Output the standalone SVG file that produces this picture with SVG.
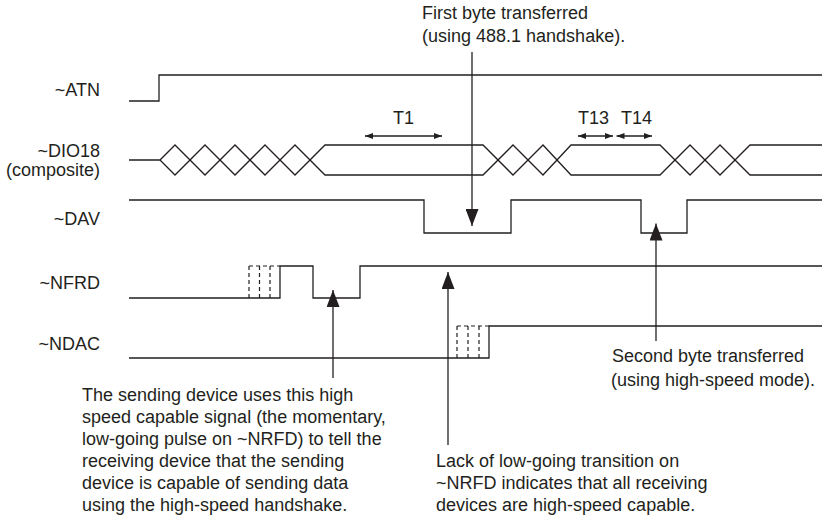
<svg xmlns="http://www.w3.org/2000/svg" width="824" height="519" viewBox="0 0 824 519">
<defs>
<style>
.w{fill:none;stroke:#231f20;stroke-width:1.3;stroke-linejoin:miter}
.d{fill:none;stroke:#231f20;stroke-width:1.2;stroke-dasharray:4 3}
.c{fill:none;stroke:#231f20;stroke-width:1.3}
text{font-family:"Liberation Sans",Arial,Helvetica,sans-serif;font-size:18px;fill:#231f20}
.lbl{text-anchor:end}
</style>
<marker id="big" viewBox="0 0 17 13" markerWidth="17" markerHeight="13" refX="17" refY="6.5" orient="auto" markerUnits="userSpaceOnUse">
<path d="M0,0 L17,6.5 L0,13 Z" fill="#231f20"/>
</marker>
<marker id="sm" viewBox="0 0 8 6" markerWidth="8" markerHeight="6" refX="8" refY="3" orient="auto-start-reverse" markerUnits="userSpaceOnUse">
<path d="M0,0 L8,3 L0,6 Z" fill="#231f20"/>
</marker>
</defs>
<rect width="824" height="519" fill="#ffffff"/>

<g id="atn">
<text class="lbl" x="100" y="96">~ATN</text>
<path class="w" d="M129,101 L159,101 L159,75 L822,75"/>
</g>

<g id="dio18">
<text class="lbl" x="100" y="157">~DIO18</text>
<text class="lbl" x="100" y="176">(composite)</text>
<path class="w" d="M129,160 L160,160 L175,145 L205,175 L235,145 L265,175 L295,145 L325,175 L483,175 L513,145 L543,175 L571,145 L660,145 L690,175 L720,145 L750,175 L822,175"/>
<path class="w" d="M160,160 L175,175 L205,145 L235,175 L265,145 L295,175 L325,145 L483,145 L513,175 L543,145 L571,175 L660,175 L690,145 L720,175 L750,145 L822,145"/>
</g>

<g id="dav">
<text class="lbl" x="100" y="225">~DAV</text>
<path class="w" d="M129,200 L424,200 L424,233 L511,233 L511,200 L641,200 L641,233 L687,233 L687,200 L822,200"/>
</g>

<g id="nfrd">
<text class="lbl" x="100" y="289">~NFRD</text>
<path class="w" d="M129,298 L280,298 L280,266 L313,266 L313,298 L360,298 L360,266 L822,266"/>
<path class="d" d="M249,266 L280,266 M249,266 L249,298 M259.5,266 L259.5,298 M270,266 L270,298"/>
</g>

<g id="ndac">
<text class="lbl" x="100" y="350">~NDAC</text>
<path class="w" d="M129,358 L489,358 L489,326 L822,326"/>
<path class="d" d="M457,326 L489,326 M457,326 L457,358 M468,326 L468,358 M479,326 L479,358"/>
</g>

<g id="timing-labels">
<text x="393" y="124">T1</text>
<text x="578" y="124">T13</text>
<text x="621" y="124">T14</text>
</g>

<g id="note-first-byte">
<text x="422" y="19">First byte transferred</text>
<text x="422" y="42">(using 488.1 handshake).</text>
</g>

<g id="note-second-byte">
<text x="612" y="362">Second byte transferred</text>
<text x="611" y="386">(using high-speed mode).</text>
</g>

<g id="note-sending">
<text x="82" y="401">The sending device uses this high</text>
<text x="82" y="423">speed capable signal (the momentary,</text>
<text x="82" y="445">low-going pulse on ~NRFD) to tell the</text>
<text x="82" y="467">receiving device that the sending</text>
<text x="82" y="489">device is capable of sending data</text>
<text x="82" y="511">using the high-speed handshake.</text>
</g>

<g id="note-lack">
<text x="436" y="467">Lack of low-going transition on</text>
<text x="436" y="489">~NRFD indicates that all receiving</text>
<text x="436" y="511">devices are high-speed capable.</text>
</g>

<g id="connectors">
<line class="c" x1="365" y1="136" x2="442" y2="136" marker-start="url(#sm)" marker-end="url(#sm)"/>
<line class="c" x1="578" y1="136" x2="613" y2="136" marker-start="url(#sm)" marker-end="url(#sm)"/>
<line class="c" x1="616.5" y1="136" x2="652" y2="136" marker-start="url(#sm)" marker-end="url(#sm)"/>
<line class="c" x1="472" y1="52" x2="472" y2="226" marker-end="url(#big)"/>
<line class="c" x1="333" y1="378" x2="333" y2="290" marker-end="url(#big)"/>
<line class="c" x1="448" y1="445" x2="448" y2="272" marker-end="url(#big)"/>
<line class="c" x1="656" y1="341" x2="656" y2="223.5" marker-end="url(#big)"/>
</g>
</svg>
